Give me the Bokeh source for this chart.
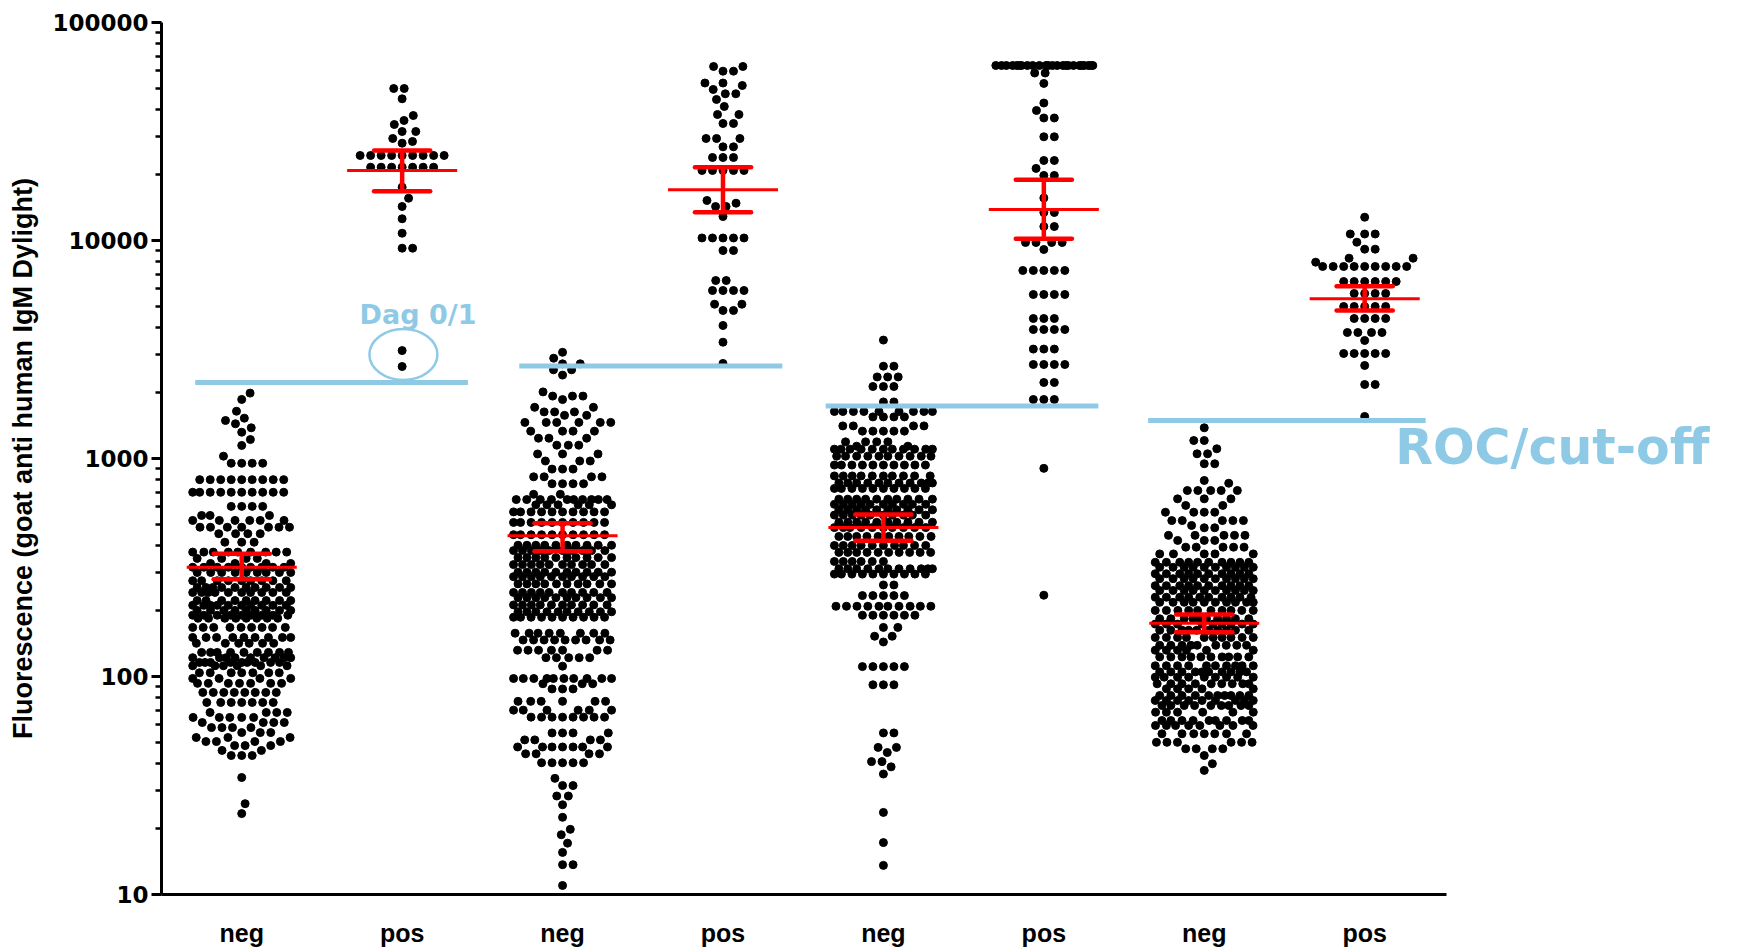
import numpy as np
from bokeh.plotting import figure
from bokeh.models import Range1d, FixedTicker, Label, CustomJSTickFormatter
from bokeh.embed import file_html
from bokeh.resources import INLINE

# ---------------- data ----------------
categories = ["neg", "pos", "neg", "pos", "neg", "pos", "neg", "pos"]

# beeswarm rows: (fluorescence value, number of dots at about that value)
neg1_rows = [(1995, 1), (1866, 1), (1648, 1), (1531, 1), (1494, 1), (1443, 1), (1383, 1), (1320, 1),
             (1222, 1), (1148, 1), (1025, 1), (951, 4), (800, 9), (700, 10), (603, 4), (548, 3),
             (520, 6), (484, 7), (452, 4), (413, 3), (372, 9), (348, 4), (330, 4), (317, 9),
             (300, 9), (275, 9), (256, 10), (243, 10), (223, 9), (212, 10), (201, 9), (191, 9),
             (185, 8), (168, 9), (151, 9), (142, 6), (129, 9), (122, 9), (116, 9), (112, 6),
             (104, 7), (98, 4), (93, 7), (84.5, 8), (76, 7), (68.4, 4), (64.9, 5), (61.5, 4),
             (58.3, 4), (55.3, 3), (52.5, 3), (50.3, 4), (48.2, 3), (45.8, 2), (43.4, 3),
             (34.4, 1), (26.1, 1), (23.5, 1)]
pos1_rows = [(49800, 2), (44670, 1), (37430, 1), (35530, 1), (34050, 1), (31620, 2), (29370, 1),
             (28460, 1), (27950, 1), (24550, 9), (21690, 7), (17560, 1), (15630, 1), (14320, 1),
             (12580, 1), (10800, 1), (9220, 2), (3126, 1), (2642, 1)]
neg2_rows = [(3070, 1), (2885, 1), (2719, 2), (2552, 2), (2413, 1), (2021, 1), (1933, 3), (1863, 1),
             (1717, 2), (1636, 3), (1577, 2), (1464, 6), (1335, 4), (1239, 3), (1151, 3), (1049, 3),
             (974, 3), (894, 3), (824, 4), (766, 4), (685, 2), (648, 10), (613, 6), (569, 10),
             (509, 10), (447, 10), (400, 10), (378, 10), (351, 10), (326, 10), (301, 10), (287, 10),
             (266, 10), (243, 10), (230, 10), (213, 10), (198, 10), (187, 10), (158, 8), (147, 9),
             (132, 7), (122, 5), (111.5, 1), (97.9, 10), (92.6, 3), (87.7, 3), (76.9, 6), (70.1, 6),
             (65.1, 8), (55.1, 4), (51.2, 4), (47.5, 7), (44.2, 4), (40.2, 5), (34.1, 1), (31.6, 2),
             (28.3, 2), (25.8, 1), (22.6, 1), (19.9, 1), (18.8, 1), (17.2, 1), (15.6, 1), (13.7, 2),
             (11.0, 1)]
pos2_rows = [(62830, 2), (59800, 2), (52780, 2), (51400, 1), (49290, 1), (47100, 2), (44360, 1),
             (41190, 1), (37840, 2), (34420, 2), (29370, 3), (26900, 2), (24030, 3), (20950, 5),
             (15260, 1), (14830, 1), (14320, 2), (12880, 1), (10270, 5), (8996, 2), (6553, 2),
             (5897, 4), (5103, 2), (4775, 2), (4074, 1), (3416, 1), (2729, 1)]
neg3_rows = [(3493, 1), (2651, 2), (2367, 3), (2139, 3), (1818, 2), (1643, 9), (1552, 4), (1411, 4),
             (1335, 5), (1192, 4), (1139, 2), (1104, 11), (1025, 10), (933, 10), (832, 10), (772, 11),
             (729, 10), (651, 10), (616, 10), (582, 10), (550, 10), (510, 10), (482, 10), (439, 10),
             (399, 10), (371, 10), (337, 6), (312, 11), (295, 10), (263, 2), (235, 5), (210, 10),
             (191, 6), (168, 2), (153, 2), (144, 1), (111, 5), (91.6, 3), (55.1, 2), (47.3, 2),
             (44.8, 1), (40.7, 2), (38.5, 1), (35.7, 1), (23.8, 1), (17.3, 1), (13.6, 1)]
pos3_rows = [(63500, 24), (58660, 2), (52550, 1), (42720, 1), (39480, 1), (36480, 2), (29910, 2),
             (23280, 2), (21420, 1), (19880, 2), (15670, 1), (13440, 2), (11590, 2), (9791, 4),
             (9093, 1), (7286, 5), (5654, 4), (4387, 3), (3905, 4), (3176, 3), (2699, 4), (2232, 2),
             (1865, 3), (901, 1), (236, 1)]
neg4_rows = [(1383, 1), (1209, 2), (1108, 1), (1051, 2), (946, 2), (793, 1), (770, 1), (713, 5),
             (653, 3), (609, 2), (567, 4), (519, 5), (493, 1), (481, 2), (444, 5), (421, 3), (392, 5),
             (365, 5), (334, 10), (317, 10), (296, 10), (281, 10), (261, 10), (248, 10), (231, 10),
             (219, 10), (201, 10), (184, 10), (174, 9), (163, 10), (151, 10), (139, 9), (132, 6),
             (123, 10), (112, 10), (105, 10), (99.3, 9), (92.6, 9), (87.8, 5), (81.8, 10),
             (77.6, 9), (73.6, 9), (68.6, 6), (62.8, 9), (59.6, 8), (54.6, 7), (49.9, 6),
             (46.6, 4), (43.4, 1), (39.8, 1), (37.1, 1)]
pos4_rows = [(12790, 1), (10710, 3), (9822, 1), (9124, 2), (8296, 2), (7955, 1), (7600, 9),
             (6484, 6), (5714, 4), (4981, 5), (4387, 4), (3784, 4), (3478, 1), (3031, 5), (2671, 1),
             (2185, 2), (1559, 1)]

group_rows = [neg1_rows, pos1_rows, neg2_rows, pos2_rows, neg3_rows, pos3_rows, neg4_rows, pos4_rows]

# mean and mean +/- SEM (red bars)
means = [317, 20950, 442, 17080, 482, 13890, 175.7, 5403]
sem_upper = [366, 25870, 504, 21700, 554, 18980, 192.5, 6171]
sem_lower = [279, 16830, 375, 13490, 419, 10190, 159.7, 4773]

# ROC cut-off per assay (pair of neg/pos columns)
cutoffs = [2233, 2656, 1741, 1494]
cutoff_x0 = [-0.29, 1.73, 3.64, 5.65]
cutoff_x1 = [1.41, 3.37, 5.34, 7.38]

y_ticks = [10, 100, 1000, 10000, 100000]

# ---------------- layout ----------------
LEFT, RIGHT_PAD, TOP, BOTTOM = 161, 5, 22, 57
W, H = 1742, 951
FRAME_W, FRAME_H = W - LEFT - RIGHT_PAD, H - TOP - BOTTOM
XMIN, XAXIS_END = -0.5, 7.51
ppu = 1285 / (XAXIS_END - XMIN)          # pixels per category unit
XMAX = XMIN + FRAME_W / ppu
YMIN, YMAX = 10, 100000
BLUE = "#8ECAE6"
RED = "#FF0000"


def ypx(v):
    return FRAME_H * (np.log10(v) - np.log10(YMIN)) / (np.log10(YMAX) - np.log10(YMIN))


def swarm(rows, center, D=10.5, half=49.0):
    vals = []
    for v, n in rows:
        vals += [v] * n
    vals.sort()
    placed, xs = [], []
    for v in vals:
        y = ypx(v)
        near = [(px, py) for px, py in placed if abs(py - y) < D]
        cands = [0.0]
        for px, py in near:
            dx = np.sqrt(D * D - (py - y) ** 2)
            cands += [px + dx, px - dx]
        cands.sort(key=abs)
        chosen = None
        for c in cands:
            if abs(c) > half + 1e-9:
                continue
            if all((c - px) ** 2 + (y - py) ** 2 >= D * D - 1e-6 for px, py in near):
                chosen = c
                break
        if chosen is None:
            grid = np.linspace(-half, half, 45)
            chosen = max(grid, key=lambda g: min((g - px) ** 2 + (y - py) ** 2 for px, py in near))
        placed.append((chosen, y))
        xs.append(center + chosen / ppu)
    return xs, vals


p = figure(width=W, height=H, x_range=Range1d(XMIN, XMAX), y_range=Range1d(YMIN, YMAX),
           y_axis_type="log", output_backend="svg", toolbar_location=None,
           min_border_left=LEFT, min_border_right=RIGHT_PAD, min_border_top=TOP,
           min_border_bottom=BOTTOM)
p.outline_line_color = None
p.grid.visible = False
p.background_fill_color = "white"
p.border_fill_color = "white"

all_x, all_y = [], []
for i, rows in enumerate(group_rows):
    gx, gy = swarm(rows, i)
    all_x += gx
    all_y += gy
p.scatter(all_x, all_y, size=8, color="black", marker="circle")

# cut-off lines
p.segment(x0=cutoff_x0, x1=cutoff_x1, y0=cutoffs, y1=cutoffs, line_color=BLUE, line_width=5)

# mean +/- SEM
idx = list(range(len(categories)))
p.segment(x0=[i - 0.343 for i in idx], x1=[i + 0.343 for i in idx], y0=means, y1=means,
          line_color=RED, line_width=3)
p.segment(x0=idx, x1=idx, y0=sem_lower, y1=sem_upper, line_color=RED, line_width=4.5)
p.segment(x0=[i - 0.175 for i in idx], x1=[i + 0.175 for i in idx], y0=sem_upper, y1=sem_upper,
          line_color=RED, line_width=4.5, line_cap="round")
p.segment(x0=[i - 0.175 for i in idx], x1=[i + 0.175 for i in idx], y0=sem_lower, y1=sem_lower,
          line_color=RED, line_width=4.5, line_cap="round")

# Dag 0/1 highlight
p.ellipse(x=[1.008], y=[2999], width=68, height=51, width_units="screen", height_units="screen",
          fill_color=None, line_color=BLUE, line_width=2.5)
p.add_layout(Label(x=0.735, y=4600, text="Dag 0/1", text_font="DejaVu Sans", text_font_style="bold",
                   text_font_size="27px", text_color=BLUE, text_baseline="alphabetic", text_align="left"))
p.add_layout(Label(x=7.19, y=1127, text="ROC/cut-off", text_font="DejaVu Sans", text_font_style="bold",
                   text_font_size="49px", text_color=BLUE, text_baseline="alphabetic", text_align="left"))

# axes
ya = p.yaxis[0]
ya.ticker = FixedTicker(ticks=y_ticks,
                        minor_ticks=[m * d for d in (10, 100, 1000, 10000) for m in range(2, 10)])
ya.formatter = CustomJSTickFormatter(code="return tick.toFixed(0);")
ya.axis_label = "Fluorescence (goat anti human IgM Dylight)"
ya.axis_label_text_font = "Liberation Sans"
ya.axis_label_text_font_style = "bold"
ya.axis_label_text_font_size = "27px"
ya.axis_label_text_color = "black"
ya.axis_label_standoff = 11
ya.major_label_text_font = "DejaVu Sans"
ya.major_label_text_font_style = "bold"
ya.major_label_text_font_size = "23px"
ya.major_label_text_color = "black"
ya.major_label_standoff = 3
ya.axis_line_width = 3
ya.axis_line_color = "black"
ya.major_tick_line_width = 3
ya.minor_tick_line_width = 2.5
ya.major_tick_line_color = "black"
ya.minor_tick_line_color = "black"
ya.major_tick_out = 10
ya.major_tick_in = 0
ya.minor_tick_out = 6
ya.minor_tick_in = 0

xa = p.xaxis[0]
xa.bounds = (XMIN, XAXIS_END)
xa.ticker = FixedTicker(ticks=idx)
xa.major_label_overrides = {i: c for i, c in enumerate(categories)}
xa.major_label_text_font = "Liberation Sans"
xa.major_label_text_font_style = "bold"
xa.major_label_text_font_size = "25px"
xa.major_label_text_color = "black"
xa.major_label_standoff = 24
xa.axis_line_width = 3
xa.axis_line_color = "black"
xa.major_tick_out = 0
xa.major_tick_in = 0
xa.minor_tick_out = 0
xa.minor_tick_in = 0

open("out.html", "w").write(file_html(p, INLINE))
